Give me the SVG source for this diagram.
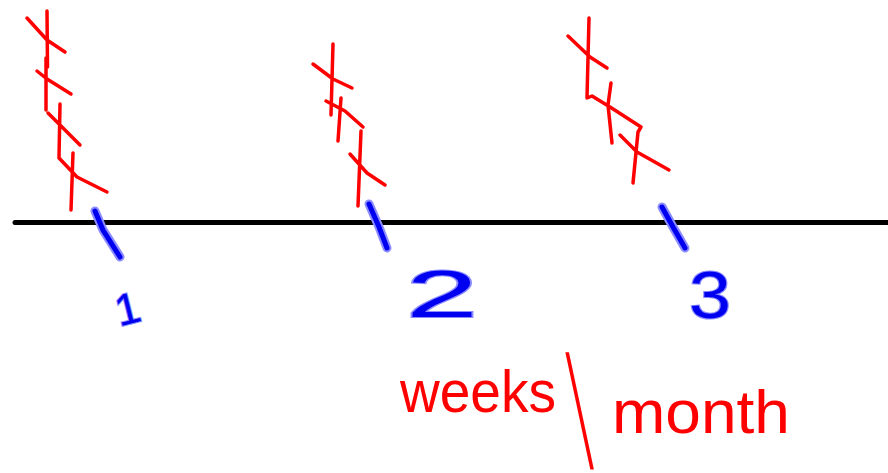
<svg xmlns="http://www.w3.org/2000/svg" width="888" height="473" viewBox="0 0 888 473">
<style>
.axis{stroke:#000;stroke-width:5;stroke-linecap:round;fill:none}
.tally{stroke:#f00;stroke-width:3.5;stroke-linecap:round;stroke-linejoin:round;fill:none}
.halo{stroke:#8c8cff;stroke-width:9;stroke-linecap:round;fill:none}
.tick{stroke:#0000f0;stroke-width:5;stroke-linecap:round;fill:none}
.num{font-family:"Liberation Sans",Arial,sans-serif;fill:#0000f0;stroke:#8c8cff;stroke-width:2;paint-order:stroke}
.lbl{font-family:"Liberation Sans",Arial,sans-serif;fill:#f00}
</style>
<rect width="888" height="473" fill="#fff"/>
<g id="connectors">
<path class="axis" d="M15,222.5 L888,222.5"/>
</g>
<g id="week1">
<path class="tally" d="M47,11 L47.5,67 M27,18 L47,40 L65,52 M46,58 L46,110 M37,71 L47,79 L71,94 M60,104 L59,158 L77,177 L107,192 M48,113 L80,145 M73,153 L71,210"/>
<path class="halo" d="M95,211 L103,230 L120,257"/>
<path class="tick" d="M95,211 L103,230 L120,257"/>
<text class="num" x="115" y="324" font-size="44" transform="rotate(-14 127 308)">1</text>
</g>
<g id="week2">
<path class="tally" d="M333,44 L331,115 M313,64 L333,79 L352,88 M341,98 L338,141 M326,101 L345,111 L363,127 M361,131 L358,206 M350,154 L367,173 L385,185"/>
<path class="halo" d="M369,204 L379,227 L387,248"/>
<path class="tick" d="M369,204 L379,227 L387,248"/>
<text class="num" x="406" y="317" font-size="66" textLength="72" lengthAdjust="spacingAndGlyphs">2</text>
</g>
<g id="week3">
<path class="tally" d="M589,18 L587,98 L592,96 L610,107 L641,127 L638,132 L633,183 M568,36 L590,57 L607,68 M611,83 L608,105 L612,143 M620,135 L637,152 L669,170"/>
<path class="halo" d="M662,207 L673,227 L685,248"/>
<path class="tick" d="M662,207 L673,227 L685,248"/>
<text class="num" x="689" y="318" font-size="66" textLength="42" lengthAdjust="spacingAndGlyphs">3</text>
</g>
<g id="label">
<text class="lbl" x="400" y="412" font-size="60" textLength="156" lengthAdjust="spacingAndGlyphs">weeks</text>
<text class="lbl" x="0" y="0" font-size="44" transform="translate(580.7 442.7) skewX(12) scale(1 2.85)">|</text>
<text class="lbl" x="612" y="433" font-size="62" textLength="178" lengthAdjust="spacingAndGlyphs">month</text>
</g>
</svg>
